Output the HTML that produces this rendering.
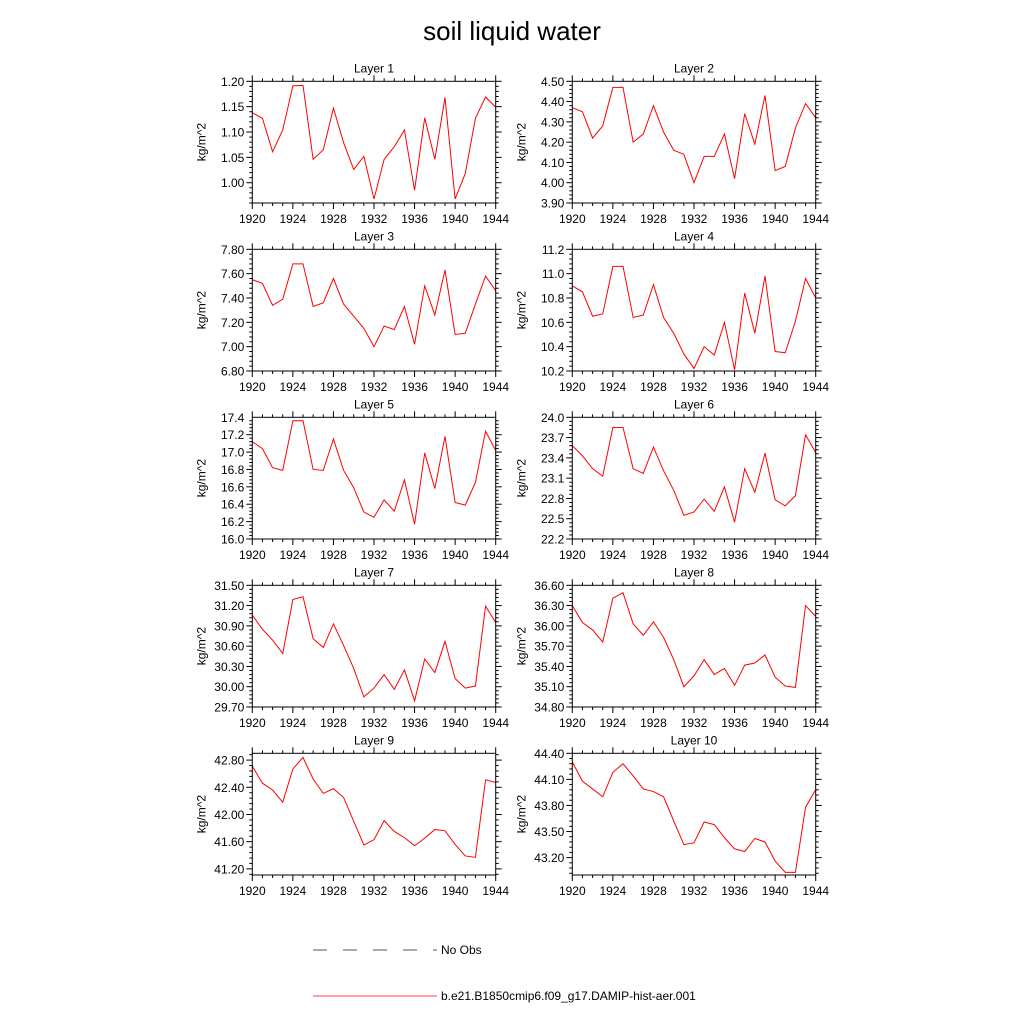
<!DOCTYPE html>
<html><head><meta charset="utf-8"><style>
html,body{margin:0;padding:0;background:#fff;}
svg{display:block;font-family:"Liberation Sans",sans-serif;}
</style></head><body>
<svg id="chart" width="1024" height="1024" viewBox="0 0 1024 1024">
<text x="512" y="40" text-anchor="middle" font-size="26">soil liquid water</text>
<g id="panels"></g>
<g>
<line x1="313" y1="950" x2="437" y2="950" stroke="#555" stroke-width="1" stroke-dasharray="14,16"/>
<text x="441" y="954" font-size="12">No Obs</text>
<line x1="313" y1="996" x2="437" y2="996" stroke="#f00" stroke-width="0.8"/>
<text x="441" y="1000" font-size="12">b.e21.B1850cmip6.f09_g17.DAMIP-hist-aer.001</text>
</g>
</svg>
<script>
const years = [1920,1921,1922,1923,1924,1925,1926,1927,1928,1929,1930,1931,1932,1933,1934,1935,1936,1937,1938,1939,1940,1941,1942,1943,1944];
const xTicks = [1920,1924,1928,1932,1936,1940,1944];
const layer1 = [1.138,1.127,1.061,1.104,1.191,1.192,1.046,1.065,1.147,1.079,1.026,1.052,0.968,1.046,1.071,1.104,0.985,1.128,1.046,1.168,0.968,1.018,1.127,1.169,1.149];
const layer2 = [4.37,4.35,4.22,4.28,4.47,4.47,4.20,4.24,4.38,4.25,4.16,4.14,4.00,4.13,4.13,4.24,4.02,4.34,4.19,4.43,4.06,4.08,4.27,4.39,4.32];
const layer3 = [7.55,7.52,7.34,7.39,7.68,7.68,7.33,7.36,7.56,7.35,7.25,7.15,7.00,7.17,7.14,7.33,7.02,7.50,7.26,7.63,7.10,7.11,7.35,7.58,7.46];
const layer4 = [10.90,10.85,10.65,10.67,11.06,11.06,10.64,10.66,10.91,10.64,10.51,10.34,10.22,10.40,10.33,10.60,10.21,10.84,10.51,10.98,10.36,10.35,10.61,10.96,10.80];
const layer5 = [17.12,17.04,16.82,16.79,17.36,17.36,16.80,16.79,17.15,16.79,16.59,16.31,16.25,16.45,16.32,16.68,16.17,16.99,16.58,17.18,16.42,16.39,16.65,17.24,17.02];
const layer6 = [23.58,23.43,23.24,23.13,23.85,23.85,23.24,23.17,23.56,23.21,22.92,22.55,22.60,22.79,22.61,22.97,22.45,23.24,22.89,23.47,22.78,22.69,22.84,23.74,23.48];
const layer7 = [31.06,30.85,30.69,30.49,31.29,31.33,30.71,30.58,30.93,30.61,30.27,29.85,29.98,30.18,29.96,30.25,29.79,30.41,30.21,30.67,30.12,29.98,30.01,31.19,30.95];
const layer8 = [36.30,36.05,35.94,35.76,36.41,36.49,36.03,35.86,36.06,35.83,35.50,35.10,35.26,35.50,35.28,35.37,35.12,35.42,35.45,35.57,35.24,35.11,35.09,36.30,36.14];
const layer9 = [42.71,42.46,42.36,42.18,42.67,42.84,42.52,42.31,42.38,42.25,41.90,41.55,41.63,41.91,41.75,41.66,41.54,41.65,41.78,41.76,41.56,41.39,41.37,42.51,42.47];
const layer10 = [44.30,44.08,43.99,43.90,44.18,44.28,44.14,43.99,43.96,43.90,43.62,43.35,43.37,43.61,43.58,43.43,43.30,43.27,43.42,43.38,43.16,43.03,43.03,43.78,43.98];
const yTicks1 = ["1.00","1.05","1.10","1.15","1.20"];
const yTicks2 = ["3.90","4.00","4.10","4.20","4.30","4.40","4.50"];
const yTicks3 = ["6.80","7.00","7.20","7.40","7.60","7.80"];
const yTicks4 = ["10.2","10.4","10.6","10.8","11.0","11.2"];
const yTicks5 = ["16.0","16.2","16.4","16.6","16.8","17.0","17.2","17.4"];
const yTicks6 = ["22.2","22.5","22.8","23.1","23.4","23.7","24.0"];
const yTicks7 = ["29.70","30.00","30.30","30.60","30.90","31.20","31.50"];
const yTicks8 = ["34.80","35.10","35.40","35.70","36.00","36.30","36.60"];
const yTicks9 = ["41.20","41.60","42.00","42.40","42.80"];
const yTicks10 = ["43.20","43.50","43.80","44.10","44.40"];
const yRanges = [[0.96,1.20],[3.90,4.50],[6.80,7.80],[10.2,11.2],[16.0,17.4],[22.2,24.0],[29.70,31.50],[34.80,36.60],[41.11,42.90],[43.00,44.40]];
const series = [layer1,layer2,layer3,layer4,layer5,layer6,layer7,layer8,layer9,layer10];
const tickSets = [yTicks1,yTicks2,yTicks3,yTicks4,yTicks5,yTicks6,yTicks7,yTicks8,yTicks9,yTicks10];

const NS = "http://www.w3.org/2000/svg";
const root = document.getElementById('panels');
function mk(tag, attrs, parent){
  const e = document.createElementNS(NS, tag);
  for (const k in attrs) e.setAttribute(k, attrs[k]);
  parent.appendChild(e);
  return e;
}
const W = 243.4, H = 121.7;
for (let i = 0; i < 10; i++) {
  const col = i % 2, row = Math.floor(i / 2);
  const L = col === 0 ? 252.3 : 572.3;
  const T = 81.3 + row * 168;
  const [ymin, ymax] = yRanges[i];
  const xs = v => L + (v - 1920) / 24 * W;
  const ys = v => T + H - (v - ymin) / (ymax - ymin) * H;
  const g = mk('g', {}, root);
  
  
  const t = mk('text', {x: L + W / 2, y: T - 9, 'text-anchor': 'middle', 'font-size': 12}, g);
  t.textContent = 'Layer ' + (i + 1);
  
  
  // x ticks
  for (let y = 1920; y <= 1944; y++) {
    const major = xTicks.includes(y);
    const len = major ? 6 : 3;
    mk('line', {x1: xs(y), y1: T + H, x2: xs(y), y2: T + H + len, stroke: '#000', 'stroke-width': 1}, g);
    mk('line', {x1: xs(y), y1: T, x2: xs(y), y2: T - len, stroke: '#000', 'stroke-width': 1}, g);
  }
  xTicks.forEach(y => {
    const tx = mk('text', {x: xs(y), y: T + H + 20, 'text-anchor': 'middle', 'font-size': 12}, g);
    tx.textContent = y;
    
    
  });
  // y ticks
  const tk = tickSets[i];
  const step = parseFloat(tk[1]) - parseFloat(tk[0]);
  const start = parseFloat(tk[0]) - 5 * step;
  for (let k = 0; k < 60; k++) {
    const v = start + k * step / 5;
    if (v < ymin - 1e-9 || v > ymax + 1e-9) continue;
    const major = k % 5 === 0;
    const len = major ? 6 : 3;
    mk('line', {x1: L, y1: ys(v), x2: L - len, y2: ys(v), stroke: '#000', 'stroke-width': 1}, g);
    mk('line', {x1: L + W, y1: ys(v), x2: L + W + len, y2: ys(v), stroke: '#000', 'stroke-width': 1}, g);
  }
  tk.forEach(s => {
    const ty = mk('text', {x: L - 8, y: ys(parseFloat(s)) + 4.5, 'text-anchor': 'end', 'font-size': 12}, g);
    ty.textContent = s;
    
    
  });
  const yl = mk('text', {x: 0, y: 0, 'text-anchor': 'middle', 'font-size': 12, transform: 'translate(' + (L - 47) + ',' + (T + H / 2) + ') rotate(-90)'}, g);
  yl.textContent = 'kg/m^2';
  
  
  const d = series[i].map((v, j) => (j ? 'L' : 'M') + xs(years[j]).toFixed(2) + ',' + ys(v).toFixed(2)).join(' ');
  const p = mk('path', {d: d, fill: 'none', stroke: '#f00', 'stroke-width': 1}, g);
  
  
  const fr = mk('rect', {x: L, y: T, width: W, height: H, fill: 'none', stroke: '#000', 'stroke-width': 1}, g);
  
  
}
</script>
</body></html>
